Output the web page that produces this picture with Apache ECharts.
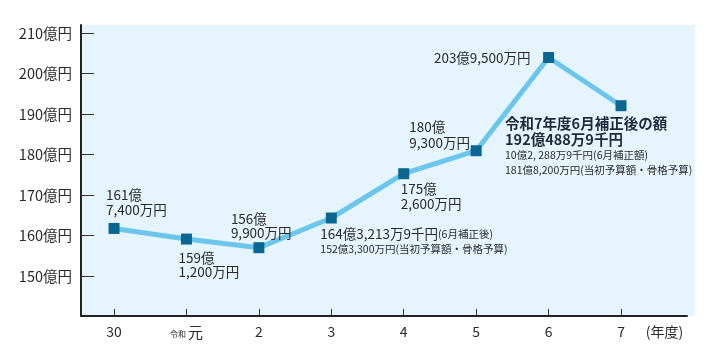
<!DOCTYPE html>
<html><head><meta charset="utf-8">
<script src="https://cdn.jsdelivr.net/npm/echarts@6/dist/echarts.min.js"></script>
<style>html,body{margin:0;padding:0;background:#fff}#c{width:711px;height:353px}</style>
</head><body><div id="c"></div>
<script>
// ---- data ----
const years = ['30', '元', '2', '3', '4', '5', '6', '7'];
const values = [161.74, 159.12, 156.99, 164.32139, 175.26, 180.93, 203.95, 192.04889];
const yTicks = [150, 160, 170, 180, 190, 200, 210];
const unitLabel = '(年度)';
const labelTexts = [
  '{a|161億}\n{a|7,400万円}',
  '{a|159億}\n{a|1,200万円}',
  '{a|156億}\n{a|9,900万円}',
  '{a|164億3,213万9千円}{s|(6月補正後)}\n{s|152億3,300万円(当初予算額・骨格予算)}',
  '{a|175億}\n{a|2,600万円}',
  '{a|180億}\n{a|9,300万円}',
  '{a|203億9,500万円}',
  '{b|令和7年度6月補正後の額}\n{b|192億488万9千円}\n{s|10億2, 288万9千円(6月補正額)}\n{s|181億8,200万円(当初予算額・骨格予算)}'
];
// label placement (offset of text block from marker centre)
const labelPlace = [
  {dx: -8, dy: -41.5, lh: 15, align: 'left'},
  {dx: -8, dy: 12, lh: 14, align: 'left'},
  {dx: -28, dy: -36, lh: 14, align: 'left'},
  {dx: -11, dy: 8, lh: 16, align: 'left'},
  {dx: -3, dy: 7.5, lh: 15, align: 'left'},
  {dx: -67, dy: -32, lh: 16, align: 'left'},
  {dx: -18, dy: -8, lh: 16, align: 'right'},
  {dx: -116, dy: 10, lh: 16, align: 'left'}
];

const FONT = '"Noto Sans CJK JP", "Noto Sans", sans-serif';
const TXT = '#2a2a2a';
const SYM = 11;
const unitPos = 7.6;

const seriesData = values.map((v, i) => {
  const p = labelPlace[i];
  return {
    value: [i, v],
    label: {
      show: true,
      formatter: labelTexts[i],
      position: [SYM / 2 + p.dx, SYM / 2 + p.dy],
      align: p.align,
      verticalAlign: 'top',
      fontFamily: FONT,
      rich: {
        a: {fontSize: 13.5, lineHeight: p.lh, color: TXT, fontFamily: FONT},
        s: {fontSize: 10.5, lineHeight: 15, color: TXT, fontFamily: FONT},
        b: {fontSize: 14.5, fontWeight: 'bold', lineHeight: 16, color: '#1e2a3a', fontFamily: FONT}
      }
    }
  };
});

const chart = echarts.init(document.getElementById('c'), null, {renderer: 'canvas'});
chart.setOption({
  animation: false,
  backgroundColor: '#ffffff',
  textStyle: {fontFamily: FONT},
  graphic: [{
    type: 'rect', z: -10, silent: true,
    shape: {x: 81, y: 25, width: 614, height: 291},
    style: {fill: '#e6f5fd'}
  }],
  grid: {left: 81, right: 24, top: 25, bottom: 37, containLabel: false},
  xAxis: {
    type: 'value',
    min: -0.456, max: 7.911,
    splitLine: {show: false},
    axisLine: {show: true, onZero: false, lineStyle: {color: '#222', width: 2}},
    axisTick: {show: true, inside: true, length: 7, lineStyle: {color: '#333', width: 1},
      customValues: years.map((_, i) => i)},
    axisLabel: {
      customValues: years.map((_, i) => i).concat([unitPos]),
      margin: 9,
      color: TXT, fontSize: 14, fontFamily: FONT,
      formatter: function (v) {
        if (Math.abs(v - unitPos) < 1e-6) return unitLabel;
        const idx = Math.round(v);
        if (years[idx] === '元') return '{s|令和}{b|元}';
        return years[idx];
      },
      rich: {
        s: {fontSize: 8, color: TXT, fontFamily: FONT, padding: [3, 2, 0, 0]},
        b: {fontSize: 15, color: TXT, fontFamily: FONT}
      }
    }
  },
  yAxis: {
    type: 'value',
    min: 140.12, max: 211.98,
    splitLine: {show: false},
    axisLine: {show: true, onZero: false, lineStyle: {color: '#222', width: 2}},
    axisTick: {show: true, inside: true, length: 13, lineStyle: {color: '#333', width: 1},
      customValues: yTicks},
    axisLabel: {
      customValues: yTicks,
      margin: 9,
      color: TXT, fontSize: 14.5, fontFamily: FONT,
      formatter: v => v + '億円'
    }
  },
  series: [{
    type: 'line',
    data: seriesData,
    symbol: 'rect',
    symbolSize: SYM,
    itemStyle: {color: '#0b6791'},
    lineStyle: {color: '#6cc6ec', width: 5},
    z: 5
  }]
});
</script>
</body></html>
